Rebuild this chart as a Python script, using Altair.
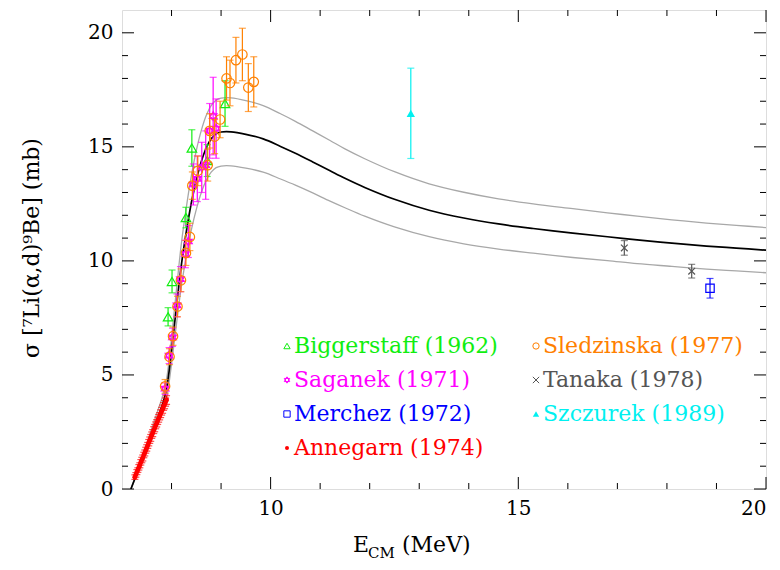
import altair as alt
import pandas as pd

# ---------------- data ----------------
curve_e = [7.18, 7.3, 7.4, 7.5, 7.6, 7.7, 7.8, 7.85, 7.9, 7.95, 8.0, 8.1, 8.2, 8.3, 8.4, 8.5,
           8.6, 8.7, 8.8, 8.9, 9.0, 9.2, 9.5, 9.85, 10.2, 10.5, 10.85, 11.2, 11.5, 11.9,
           12.5, 13.2, 13.9, 14.6, 15.3, 16.1, 16.8, 17.4, 18.1, 18.8, 19.4, 20.0]
curve_mid = [0.0, 0.68, 1.25, 1.83, 2.42, 3.0, 3.6, 3.95, 4.4, 5.15, 6.05, 8.0, 9.85, 11.3,
             12.55, 13.55, 14.35, 14.95, 15.35, 15.57, 15.65, 15.66, 15.55, 15.35, 15.02,
             14.72, 14.34, 13.95, 13.62, 13.22, 12.70, 12.22, 11.88, 11.62, 11.42, 11.22,
             11.06, 10.92, 10.78, 10.65, 10.56, 10.47]
curve_hi = [0.0, 0.74, 1.37, 2.0, 2.65, 3.29, 3.94, 4.33, 4.82, 5.64, 6.62, 8.76, 10.79,
            12.37, 13.74, 14.84, 15.71, 16.37, 16.81, 17.05, 17.14, 17.15, 17.03, 16.81,
            16.45, 16.12, 15.70, 15.28, 14.91, 14.48, 13.91, 13.38, 13.01, 12.72, 12.50,
            12.29, 12.11, 11.96, 11.80, 11.66, 11.56, 11.46]
curve_lo = [0.0, 0.62, 1.13, 1.66, 2.19, 2.72, 3.26, 3.57, 3.98, 4.66, 5.48, 7.24, 8.91,
            10.23, 11.36, 12.26, 12.99, 13.53, 13.89, 14.09, 14.16, 14.17, 14.07, 13.89,
            13.59, 13.32, 12.98, 12.62, 12.33, 11.96, 11.49, 11.06, 10.75, 10.52, 10.34,
            10.15, 10.01, 9.88, 9.76, 9.64, 9.56, 9.48]

bigg_e = [7.93, 8.01, 8.29, 8.41, 8.72, 9.08]
bigg_s = [7.55, 9.1, 11.9, 14.95, 14.4, 16.9]
bigg_err = [0.4, 0.5, 0.45, 0.8, 0.7, 1.0]

sag_e = [7.87, 7.95, 8.02, 8.11, 8.18, 8.28, 8.34, 8.44, 8.52, 8.61, 8.69, 8.77, 8.84, 8.90]
sag_s = [4.4, 5.85, 6.65, 8.05, 9.2, 10.3, 10.85, 13.35, 13.6, 14.1, 14.2, 15.7, 16.35, 15.8]
sag_err = [0.25, 0.35, 0.4, 0.5, 0.55, 0.6, 0.7, 0.9, 1.0, 1.1, 1.5, 1.2, 1.7, 1.3]

mer_e = [18.87]
mer_s = [8.8]
mer_err = [0.43]

ann_e = [7.26, 7.28, 7.30, 7.32, 7.34, 7.36, 7.38, 7.40, 7.42, 7.44, 7.46, 7.48, 7.50,
         7.52, 7.54, 7.56, 7.58, 7.60, 7.62, 7.64, 7.66, 7.68, 7.70, 7.72, 7.74, 7.76,
         7.78, 7.80, 7.82, 7.84, 7.86, 7.88, 7.90]
ann_s = [0.52, 0.62, 0.74, 0.83, 0.95, 1.04, 1.17, 1.27, 1.36, 1.49, 1.58, 1.70, 1.80,
         1.91, 2.03, 2.14, 2.24, 2.36, 2.45, 2.58, 2.67, 2.79, 2.88, 2.99, 3.10, 3.19,
         3.30, 3.41, 3.50, 3.62, 3.70, 3.81, 3.90]
ann_err = [0.1, 0.1, 0.11, 0.1, 0.12, 0.11, 0.12, 0.12, 0.13, 0.12, 0.13, 0.13, 0.14,
           0.13, 0.14, 0.14, 0.15, 0.14, 0.15, 0.15, 0.16, 0.15, 0.16, 0.16, 0.17, 0.16,
           0.17, 0.17, 0.18, 0.17, 0.18, 0.18, 0.19]

sle_e = [7.87, 7.96, 8.03, 8.12, 8.19, 8.29, 8.37, 8.42, 8.53, 8.73, 8.77, 8.87, 8.98,
         9.11, 9.18, 9.30, 9.43, 9.55, 9.66]
sle_s = [4.5, 5.8, 6.7, 8.0, 9.15, 10.35, 11.05, 13.3, 13.95, 14.2, 15.7, 15.45, 16.2,
         18.0, 17.8, 18.8, 19.05, 17.6, 17.85]
sle_err = [0.3, 0.35, 0.4, 0.45, 0.5, 0.55, 0.6, 0.6, 0.65, 0.7, 0.75, 0.75, 0.8, 0.95,
           1.0, 1.0, 1.15, 1.05, 1.1]

tan_e = [17.14, 18.5]
tan_s = [10.57, 9.55]
tan_err = [0.32, 0.3]

szc_e = [12.83]
szc_s = [16.47]
szc_err = [1.98]

x_major = [10, 15, 20]
x_minor = [8, 9, 11, 12, 13, 14, 16, 17, 18, 19]
y_major = [0, 5, 10, 15, 20]
y_minor = [1, 2, 3, 4, 6, 7, 8, 9, 11, 12, 13, 14, 16, 17, 18, 19]

# ---------------- chart ----------------
W, H = 644, 479
FONT = "DejaVu Serif"
xscale = alt.Scale(domain=[7, 20], nice=False, zero=False)
yscale = alt.Scale(domain=[0, 21], nice=False, zero=False)
xaxis = alt.Axis(values=x_major, ticks=False, domain=False, grid=False, title=None,
                 labelFont=FONT, labelFontSize=20, labelColor="black", labelPadding=9)
yaxis = alt.Axis(values=y_major, ticks=False, domain=False, grid=False, title=None,
                 labelFont=FONT, labelFontSize=20, labelColor="black", labelPadding=9)


def X(f):
    return alt.X(f, type="quantitative", scale=xscale, axis=xaxis)


def Y(f):
    return alt.Y(f, type="quantitative", scale=yscale, axis=yaxis)


layers = []

cdf = pd.DataFrame({"E": curve_e, "mid": curve_mid, "hi": curve_hi, "lo": curve_lo})
for col, color, sw in [("hi", "#a8a8a8", 1.3), ("lo", "#a8a8a8", 1.3), ("mid", "black", 1.7)]:
    layers.append(alt.Chart(cdf).mark_line(color=color, strokeWidth=sw, clip=True,
                                           interpolate="catmull-rom")
                  .encode(x=X("E"), y=Y(col)))

HEX = "M0,-1L0.866,0.5L-0.866,0.5ZM0,1L0.866,-0.5L-0.866,-0.5Z"
XCROSS = "M-1,-1L1,1M-1,1L1,-1"

series = [
    ("Biggerstaff (1962)", bigg_e, bigg_s, bigg_err, "#10ee10", "triangle-up", False, 90),
    ("Saganek (1971)", sag_e, sag_s, sag_err, "#ff00ff", HEX, False, 80),
    ("Merchez (1972)", mer_e, mer_s, mer_err, "#0000ff", "square", False, 70),
    ("Annegarn (1974)", ann_e, ann_s, ann_err, "#ff0000", "circle", True, 24),
    ("Sledzinska (1977)", sle_e, sle_s, sle_err, "#ff8000", "circle", False, 90),
    ("Tanaka (1978)", tan_e, tan_s, tan_err, "#555555", XCROSS, False, 45),
    ("Szczurek (1989)", szc_e, szc_s, szc_err, "#00f0f0", "triangle-up", True, 70),
]
draw_order = [0, 1, 4, 3, 5, 2, 6]

for i in draw_order:
    name, e, s, err, color, shape, filled, size = series[i]
    df = pd.DataFrame({"E": e, "s": s, "err": err})
    df["lo"] = df["s"] - df["err"]
    df["hi"] = df["s"] + df["err"]
    caps = pd.concat([pd.DataFrame({"E": df["E"], "y": df["lo"]}),
                      pd.DataFrame({"E": df["E"], "y": df["hi"]})])
    layers.append(alt.Chart(df).mark_rule(color=color, strokeWidth=1.2)
                  .encode(x=X("E"), y=Y("lo"), y2="hi"))
    layers.append(alt.Chart(caps).mark_tick(color=color, orient="horizontal",
                                            size=7, thickness=1.2)
                  .encode(x=X("E"), y=Y("y")))
    layers.append(alt.Chart(df).mark_point(shape=shape, filled=filled, color=color,
                                           size=size, strokeWidth=1.2, opacity=1)
                  .encode(x=X("E"), y=Y("s")))

# ticks (inward, all four sides)
one = pd.DataFrame({"k": [0]})
for vals, ln in [(x_major, 12), (x_minor, 6)]:
    d = pd.DataFrame({"E": vals})
    layers.append(alt.Chart(d).mark_rule(color="black", strokeWidth=1)
                  .encode(x=X("E"), y=alt.value(H), y2=alt.value(H - ln)))
    layers.append(alt.Chart(d).mark_rule(color="black", strokeWidth=1)
                  .encode(x=X("E"), y=alt.value(0), y2=alt.value(ln)))
for vals, ln in [(y_major, 12), (y_minor, 6)]:
    d = pd.DataFrame({"s": vals})
    layers.append(alt.Chart(d).mark_rule(color="black", strokeWidth=1)
                  .encode(y=Y("s"), x=alt.value(0), x2=alt.value(ln)))
    layers.append(alt.Chart(d).mark_rule(color="black", strokeWidth=1)
                  .encode(y=Y("s"), x=alt.value(W), x2=alt.value(W - ln)))

# legend
for i, (name, e, s, err, color, shape, filled, size) in enumerate(series):
    col, row = i // 4, i % 4
    px = 165 + col * 249
    py = 336 + row * 34
    lsize = 16 if (filled and shape == "circle") else 40
    layers.append(alt.Chart(one).mark_point(shape=shape, filled=filled, color=color,
                                            size=lsize, strokeWidth=1, opacity=1)
                  .encode(x=alt.value(px), y=alt.value(py)))
    layers.append(alt.Chart(one).mark_text(text=name, color=color, font=FONT, fontSize=22,
                                           align="left", baseline="middle")
                  .encode(x=alt.value(px + 7), y=alt.value(py)))

# axis titles
layers.append(alt.Chart(one).mark_text(text="σ [⁷Li(α,d)⁹Be] (mb)", font=FONT, fontSize=22,
                                       angle=270, align="center", baseline="middle",
                                       color="black")
              .encode(x=alt.value(-90), y=alt.value(238)))
layers.append(alt.Chart(one).mark_text(text="E", font=FONT, fontSize=22, align="left",
                                       baseline="middle", color="black")
              .encode(x=alt.value(231), y=alt.value(535)))
layers.append(alt.Chart(one).mark_text(text="CM", font=FONT, fontSize=15, align="left",
                                       baseline="middle", color="black")
              .encode(x=alt.value(246), y=alt.value(543)))
layers.append(alt.Chart(one).mark_text(text="(MeV)", font=FONT, fontSize=22, align="left",
                                       baseline="middle", color="black")
              .encode(x=alt.value(280), y=alt.value(535)))

chart = alt.layer(*layers).properties(
    width=W, height=H,
    autosize=alt.AutoSizeParams(type="none"),
    padding={"left": 122, "top": 10, "right": 14, "bottom": 81},
).configure_view(stroke="black", strokeWidth=1.2).configure(background="white")

chart.save("out.html", embed_options={"renderer": "svg", "actions": False})
